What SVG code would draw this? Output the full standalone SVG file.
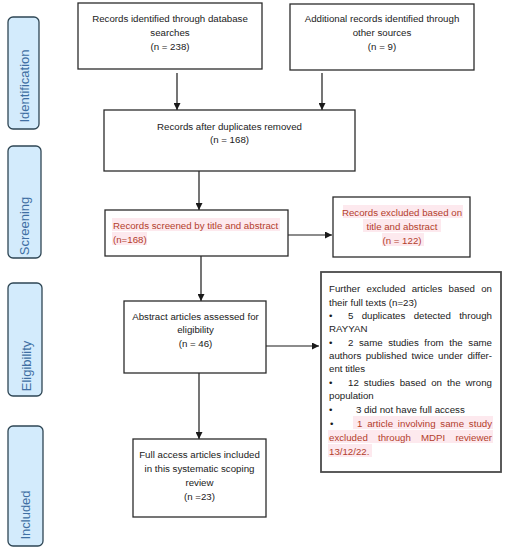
<svg xmlns="http://www.w3.org/2000/svg" width="507" height="550" viewBox="0 0 507 550">
<style>
.bg{fill:#ffffff}
.box{fill:#ffffff;stroke:#2b2b2b;stroke-width:1.3}
.box7{fill:#ffffff;stroke:#4a4a4a;stroke-width:1.8}
.pill{fill:#d3ebfc;stroke:#2e4654;stroke-width:1.3}
.ph{font-family:"Liberation Sans",Arial,sans-serif;font-size:13px;fill:#3f6fa3;text-anchor:middle}
.t{font-family:"Liberation Sans",Arial,sans-serif;font-size:9.7px;fill:#1a1a1a}
.c{text-anchor:middle}
.m{text-anchor:middle}
.e{text-anchor:end}
.r{fill:#b3402c}
.hl{fill:#fde9ee}
.ln{stroke:#1a1a1a;stroke-width:1.2;fill:none}
</style>
<defs>
<marker id="ah" viewBox="0 0 8 8" refX="8" refY="4" markerWidth="7" markerHeight="7" markerUnits="userSpaceOnUse" orient="auto">
<path d="M0,0 L8,4 L0,8 z" fill="#1a1a1a"/>
</marker>
</defs>
<rect class="bg" x="0" y="0" width="507" height="550"/>

<g id="phase-identification">
<rect class="pill" x="8" y="17" width="31" height="112" rx="5"/>
<text class="ph" transform="translate(29,86) rotate(-90)">Identification</text>
</g>
<g id="phase-screening">
<rect class="pill" x="8" y="146" width="33" height="112" rx="5"/>
<text class="ph" transform="translate(29,226) rotate(-90)">Screening</text>
</g>
<g id="phase-eligibility">
<rect class="pill" x="8" y="283" width="34" height="113" rx="5"/>
<text class="ph" transform="translate(31,366) rotate(-90)">Eligibility</text>
</g>
<g id="phase-included">
<rect class="pill" x="8" y="426" width="35" height="120" rx="5"/>
<text class="ph" transform="translate(30,515) rotate(-90)">Included</text>
</g>

<g id="connectors">
<line class="ln" x1="177" y1="73" x2="177" y2="110" marker-end="url(#ah)"/>
<line class="ln" x1="322" y1="73" x2="322" y2="110" marker-end="url(#ah)"/>
<line class="ln" x1="199" y1="171" x2="199" y2="210" marker-end="url(#ah)"/>
<line class="ln" x1="288" y1="235" x2="332" y2="235" marker-end="url(#ah)"/>
<line class="ln" x1="201" y1="256" x2="201" y2="301" marker-end="url(#ah)"/>
<line class="ln" x1="266" y1="346" x2="319" y2="346" marker-end="url(#ah)"/>
<line class="ln" x1="199" y1="373" x2="199" y2="439" marker-end="url(#ah)"/>
</g>

<g id="box-database">
<rect class="box" x="78" y="3" width="184" height="66"/>
<text class="t c" x="170" y="21.5">Records identified through database</text>
<text class="t c" x="170" y="35.5">searches</text>
<text class="t c" x="170" y="49.5">(n = 238)</text>
</g>
<g id="box-other">
<rect class="box" x="290" y="4" width="184" height="66"/>
<text class="t c" x="382" y="22">Additional records identified through</text>
<text class="t c" x="382" y="36">other sources</text>
<text class="t c" x="382" y="50">(n = 9)</text>
</g>
<g id="box-duplicates">
<rect class="box" x="104" y="110" width="251" height="61"/>
<text class="t c" x="229.5" y="129.5">Records after duplicates removed</text>
<text class="t c" x="229.5" y="143">(n = 168)</text>
</g>
<g id="box-screened">
<rect class="box" x="105" y="210" width="183" height="46"/>
<rect class="hl" x="112" y="218" width="168" height="13"/>
<rect class="hl" x="112" y="232" width="35" height="13"/>
<text class="t r" x="113" y="228.5">Records screened by title and abstract</text>
<text class="t r" x="113" y="242.5">(n=168)</text>
</g>
<g id="box-excluded">
<rect class="box" x="333" y="197" width="137" height="60"/>
<rect class="hl" x="343" y="205" width="120" height="13"/>
<rect class="hl" x="363" y="219" width="78" height="13"/>
<rect class="hl" x="382" y="233" width="42" height="13"/>
<text class="t c r" x="402" y="215.5">Records excluded based on</text>
<text class="t c r" x="402" y="229.5">title and abstract</text>
<text class="t c r" x="402" y="243.5">(n = 122)</text>
</g>
<g id="box-eligibility">
<rect class="box" x="124" y="301" width="142" height="72"/>
<text class="t c" x="195.5" y="319.5">Abstract articles assessed for</text>
<text class="t c" x="195.5" y="333">eligibility</text>
<text class="t c" x="195.5" y="346.5">(n = 46)</text>
</g>
<g id="box-fulltext-excluded">
<rect class="box7" x="321" y="272" width="180" height="200"/>
<text class="t" x="329" y="291.5">Further</text>
<text class="t m" x="386" y="291.5">excluded</text>
<text class="t m" x="427" y="291.5">articles</text>
<text class="t m" x="461.8" y="291.5">based</text>
<text class="t e" x="492" y="291.5">on</text>
<text class="t" x="329" y="305.5">their full texts (n=23)</text>
<text class="t" x="329" y="318.5">•</text>
<text class="t" x="348" y="318.5">5</text>
<text class="t m" x="383.5" y="318.5">duplicates</text>
<text class="t m" x="432.3" y="318.5">detected</text>
<text class="t e" x="492" y="318.5">through</text>
<text class="t" x="329" y="331.5">RAYYAN</text>
<text class="t" x="329" y="345.5">•</text>
<text class="t" x="348" y="345.5">2</text>
<text class="t m" x="370.8" y="345.5">same</text>
<text class="t m" x="403.5" y="345.5">studies</text>
<text class="t m" x="434" y="345.5">from</text>
<text class="t m" x="456" y="345.5">the</text>
<text class="t e" x="492" y="345.5">same</text>
<text class="t" x="329" y="358.5">authors</text>
<text class="t m" x="386.4" y="358.5">published</text>
<text class="t m" x="422.6" y="358.5">twice</text>
<text class="t m" x="450.4" y="358.5">under</text>
<text class="t e" x="492" y="358.5">differ-</text>
<text class="t" x="329" y="371.5">ent titles</text>
<text class="t" x="329" y="385.5">•</text>
<text class="t" x="348" y="385.5">12</text>
<text class="t m" x="379.2" y="385.5">studies</text>
<text class="t m" x="412.9" y="385.5">based</text>
<text class="t m" x="436.6" y="385.5">on</text>
<text class="t m" x="453.8" y="385.5">the</text>
<text class="t e" x="492" y="385.5">wrong</text>
<text class="t" x="329" y="398.5">population</text>
<text class="t" x="329" y="412.5">•</text>
<text class="t" x="356" y="412.5">3 did not have full access</text>
<rect class="hl" x="353" y="416" width="140" height="13"/>
<rect class="hl" x="328" y="430" width="165" height="13"/>
<rect class="hl" x="328" y="444" width="44" height="13"/>
<text class="t" x="330" y="426.5">•</text>
<text class="t r" x="357" y="426.5">1</text>
<text class="t m r" x="380.1" y="426.5">article</text>
<text class="t m r" x="416.7" y="426.5">involving</text>
<text class="t m r" x="452.2" y="426.5">same</text>
<text class="t e r" x="492" y="426.5">study</text>
<text class="t r" x="329" y="440.5">excluded</text>
<text class="t m r" x="394.4" y="440.5">through</text>
<text class="t m r" x="433" y="440.5">MDPI</text>
<text class="t e r" x="492" y="440.5">reviewer</text>
<text class="t r" x="329" y="454.5">13/12/22.</text>
</g>
<g id="box-included">
<rect class="box" x="133" y="439" width="133" height="78"/>
<text class="t c" x="199.5" y="457.5">Full access articles included</text>
<text class="t c" x="199.5" y="471.5">in this systematic scoping</text>
<text class="t c" x="199.5" y="485.5">review</text>
<text class="t c" x="199.5" y="499.5">(n =23)</text>
</g>
</svg>
